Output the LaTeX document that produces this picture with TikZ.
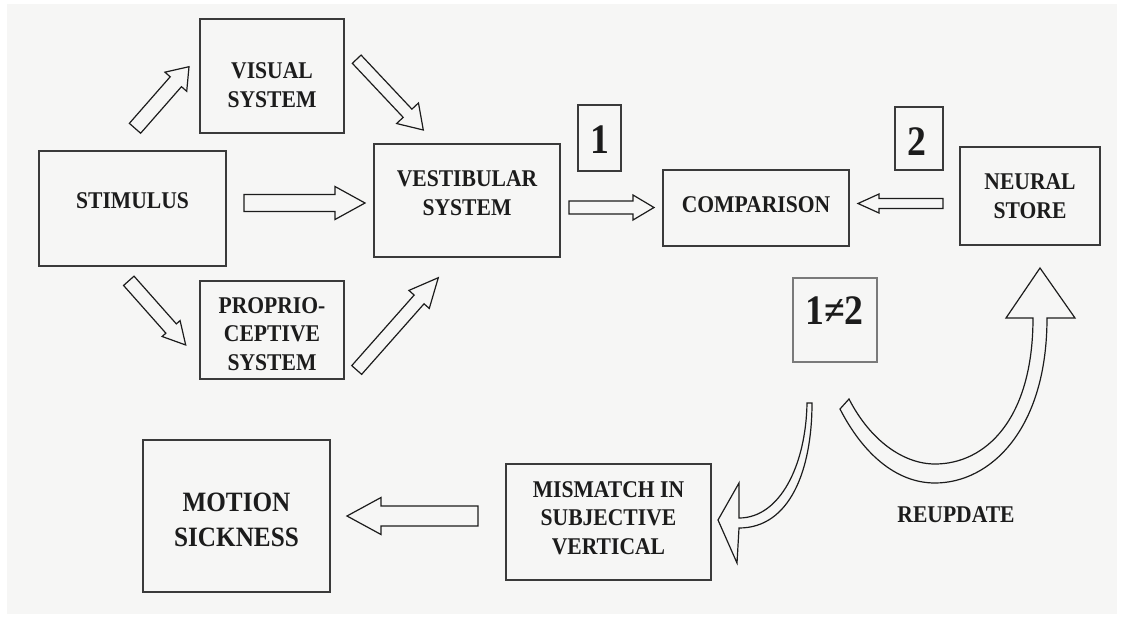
\documentclass[tikz,border=0pt]{standalone}
\usepackage{fontspec}
\setmainfont{Liberation Serif}[FakeStretch=0.9]
\usetikzlibrary{calc}
\definecolor{paper}{HTML}{F6F6F5}
\definecolor{ink}{HTML}{1C1C1C}
\definecolor{boxline}{HTML}{3A3A3A}
\definecolor{lightline}{HTML}{7A7A7A}
\tikzset{
  box/.style={draw=boxline, line width=1.7pt, inner sep=0pt, fill=none},
  softbox/.style={draw=lightline, line width=1.1pt, inner sep=0pt},
  lbl/.style={text=ink, font=\bfseries\fontsize{24}{28.5}\selectfont, align=center, inner sep=0pt},
  biglbl/.style={text=ink, font=\bfseries\fontsize{28}{35}\selectfont, align=center, inner sep=0pt},
  numlbl/.style={text=ink, font=\bfseries\fontsize{42}{44}\selectfont, inner sep=0pt},
  blockarr/.style={draw=ink, line width=1.2pt, fill=paper, line join=miter},
}
\newcommand\barrow[5]{%
  \coordinate (hb) at ($(#2)!#5pt!(#1)$);
  \draw[blockarr] ($(#1)!#3pt!90:(#2)$) -- ($(hb)!#3pt!-90:(#1)$) -- ($(hb)!#4pt!-90:(#1)$) -- (#2)
     -- ($(hb)!#4pt!90:(#1)$) -- ($(hb)!#3pt!90:(#1)$) -- ($(#1)!#3pt!-90:(#2)$) -- cycle;}
\begin{document}
\begin{tikzpicture}[x=1pt,y=-1pt]
\useasboundingbox (0,0) rectangle (1122,618);
\fill[white] (0,0) rectangle (1122,618);
\fill[paper] (7,4) rectangle (1117,614);

% boxes
\node[box, minimum width=187pt, minimum height=115pt] (stim) at (132.5,208.5) {};
\node[box, minimum width=144pt, minimum height=114pt] (vis) at (272,76) {};
\node[box, minimum width=186pt, minimum height=113pt] (vest) at (467,200.5) {};
\node[box, minimum width=144pt, minimum height=98pt] (prop) at (272,330) {};
\node[box, minimum width=43pt, minimum height=66pt] (one) at (599.5,138) {};
\node[box, minimum width=186pt, minimum height=76pt] (comp) at (756,208) {};
\node[box, minimum width=48pt, minimum height=63pt] (two) at (919,138.5) {};
\node[box, minimum width=140pt, minimum height=98pt] (neur) at (1030,196) {};
\node[softbox, minimum width=84pt, minimum height=84pt] (neq) at (835,320) {};
\node[box, minimum width=187pt, minimum height=152pt] (mot) at (236.5,516) {};
\node[box, minimum width=205pt, minimum height=116pt] (mism) at (608.5,522) {};

% texts
\node[lbl] (stimt) at (132.5,200.5) {STIMULUS};
\node[lbl] (vist) at (272,85) {VISUAL\\SYSTEM};
\node[lbl] (vestt) at (467,193) {VESTIBULAR\\SYSTEM};
\node[lbl] (propt) at (272,334) {PROPRIO-\\CEPTIVE\\SYSTEM};
\node[lbl] (compt) at (756,204.5) {COMPARISON};
\node[lbl] (neurt) at (1030,196) {NEURAL\\STORE};
\node[numlbl] (onet) at (600,139.5) {1};
\node[numlbl] (twot) at (917,142) {2};
\node[numlbl] (neqt) at (834.5,311) {1≠2};
\node[biglbl] (mott) at (236.5,519.5) {MOTION\\SICKNESS};
\node[lbl] (mismt) at (608.5,518) {MISMATCH IN\\SUBJECTIVE\\VERTICAL};
\node[lbl] (reup) at (956,515) {REUPDATE};

% straight block arrows
\coordinate (a1s) at (135,128.3);   \coordinate (a1e) at (189,66.7);
\coordinate (a2s) at (356.7,59.2);  \coordinate (a2e) at (423.3,130);
\coordinate (a3s) at (244,203);     \coordinate (a3e) at (365,203);
\coordinate (a4s) at (128.8,280.8); \coordinate (a4e) at (185.7,345);
\coordinate (a5s) at (356.7,370);   \coordinate (a5e) at (438.3,277.7);
\coordinate (a6s) at (569,207.5);   \coordinate (a6e) at (654,207.5);
\coordinate (a7s) at (943,203.5);   \coordinate (a7e) at (858,203.5);
\coordinate (a8s) at (478,516);     \coordinate (a8e) at (347,516);
\barrow{a1s}{a1e}{7.5}{14.5}{20}
\barrow{a2s}{a2e}{6}{15}{23}
\barrow{a3s}{a3e}{8.5}{16.5}{30}
\barrow{a4s}{a4e}{7}{12}{22}
\barrow{a5s}{a5e}{6.6}{13.6}{29}
\barrow{a6s}{a6e}{6.5}{12.5}{21}
\barrow{a7s}{a7e}{5}{9.5}{21}
\barrow{a8s}{a8e}{10}{18.5}{34}

% curved arrow from 1≠2 to mismatch
\draw[blockarr] (807,403) -- (812,403)
  .. controls (812,470) and (790,528) .. (739,528)
  -- (737,563) -- (718,520) -- (739,483) -- (739,518)
  .. controls (780,518) and (806,465) .. (807,403) -- cycle;

% reupdate U arrow
\draw[blockarr] (840,409)
  .. controls (862,452) and (895,483) .. (935,483)
  .. controls (990,483) and (1047,430) .. (1047,318)
  -- (1075,318) -- (1040,268) -- (1006,318) -- (1033,318)
  .. controls (1033,420) and (985,464) .. (935,464)
  .. controls (903,464) and (870,440) .. (849,399) -- cycle;
\end{tikzpicture}
\end{document}
